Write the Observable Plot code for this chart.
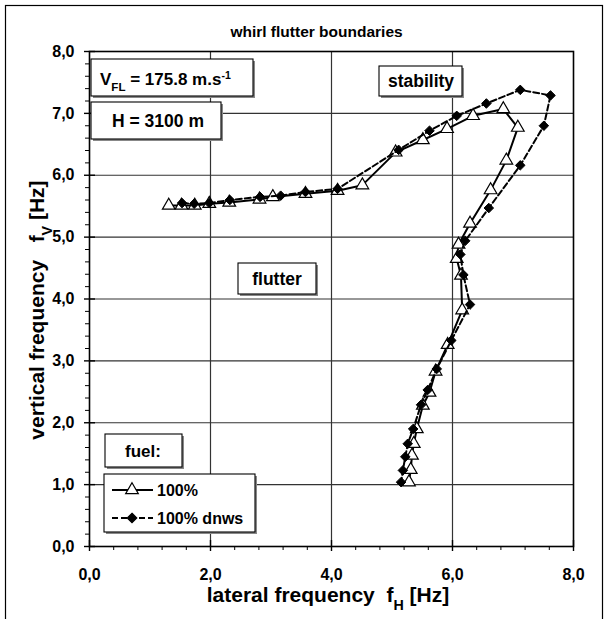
<!DOCTYPE html>
<html><head><meta charset="utf-8">
<script src="https://cdn.jsdelivr.net/npm/d3@7"></script>
<script src="https://cdn.jsdelivr.net/npm/@observablehq/plot@0.6"></script>
<style>body{margin:0;background:#fff}svg text{white-space:pre}</style>
</head><body><div id="chart"></div>
<script>
// ---- data: fuel 100 % (solid line, open triangles) ----
const fuel100X = [1.31, 1.52, 1.74, 1.98, 2.31, 2.81, 3.03, 3.57, 4.10, 4.51, 5.06, 5.51, 5.91, 6.34, 6.84, 7.08, 6.89, 6.63, 6.29, 6.10, 6.07, 6.14, 6.16, 5.92, 5.72, 5.62, 5.51, 5.41, 5.36, 5.33, 5.31, 5.28];
const fuel100Y = [5.51, 5.51, 5.51, 5.54, 5.56, 5.61, 5.65, 5.70, 5.75, 5.84, 6.37, 6.57, 6.75, 6.96, 7.07, 6.77, 6.24, 5.76, 5.22, 4.88, 4.65, 4.38, 3.82, 3.26, 2.83, 2.49, 2.28, 1.90, 1.66, 1.47, 1.24, 1.04];
// ---- data: fuel 100 % dnws (dashed line, filled diamonds) ----
const dnwsX = [1.53, 1.73, 1.98, 2.32, 2.82, 3.16, 3.57, 4.10, 5.11, 5.62, 6.07, 6.56, 7.12, 7.62, 7.51, 7.12, 6.60, 6.21, 6.13, 6.18, 6.29, 5.98, 5.74, 5.59, 5.48, 5.35, 5.26, 5.22, 5.18, 5.15];
const dnwsY = [5.55, 5.54, 5.55, 5.60, 5.65, 5.67, 5.73, 5.78, 6.41, 6.72, 6.96, 7.16, 7.38, 7.29, 6.80, 6.16, 5.47, 4.94, 4.72, 4.39, 3.91, 3.33, 2.87, 2.53, 2.29, 1.90, 1.66, 1.45, 1.23, 1.04];
// ---- ticks ----
const xTicks = [0, 2, 4, 6, 8];
const yTicks = [0, 1, 2, 3, 4, 5, 6, 7, 8];
const xGrid = [2, 4, 6];
const yGrid = [1, 2, 3, 4, 5, 6, 7];
const xMinor = [0.4, 0.8, 1.2, 1.6, 2.4, 2.8, 3.2, 3.6, 4.4, 4.8, 5.2, 5.6, 6.4, 6.8, 7.2, 7.6];
const yMinor = [0.2,0.4,0.6,0.8,1.2,1.4,1.6,1.8,2.2,2.4,2.6,2.8,3.2,3.4,3.6,3.8,4.2,4.4,4.6,4.8,5.2,5.4,5.6,5.8,6.2,6.4,6.6,6.8,7.2,7.4,7.6,7.8];
// ---- texts ----
const titleText = "whirl flutter boundaries";
const seriesNames = ["100%", "100% dnws"];

const s1 = fuel100X.map((x, i) => ({x, y: fuel100Y[i]}));
const s2 = dnwsX.map((x, i) => ({x, y: dnwsY[i]}));
const fmt = d => d.toFixed(1).replace(".", ",");
const FONT = "'Liberation Sans', Arial, sans-serif";

const plot = Plot.plot({
  width: 608, height: 619,
  marginLeft: 89, marginRight: 35, marginTop: 51, marginBottom: 73,
  style: {fontFamily: FONT, fontWeight: "bold", background: "#fff", color: "#000", overflow: "visible"},
  x: {domain: [0, 8], label: null},
  y: {domain: [0, 8], label: null},
  marks: [
    Plot.gridY(yGrid, {stroke: "#333", strokeOpacity: 1, strokeWidth: 1.2}),
    Plot.gridX(xGrid, {stroke: "#333", strokeOpacity: 1, strokeWidth: 1.2}),
    Plot.frame({stroke: "#000", strokeWidth: 1.6}),
    Plot.ruleX(xMinor, {x: d => d, y1: 0, y2: 0, insetTop: 0, insetBottom: -4, stroke: "#000", strokeWidth: 1}),
    Plot.ruleX(xTicks, {x: d => d, y1: 0, y2: 0, insetTop: -6, insetBottom: -5, stroke: "#000", strokeWidth: 1.4}),
    Plot.ruleY(yMinor, {y: d => d, x1: 0, x2: 0, insetLeft: -4, insetRight: 0, stroke: "#000", strokeWidth: 1}),
    Plot.ruleY(yTicks, {y: d => d, x1: 0, x2: 0, insetLeft: -5, insetRight: -6, stroke: "#000", strokeWidth: 1.4}),
    Plot.axisX(xTicks, {tickSize: 0, tickPadding: 22, tickFormat: fmt, fontSize: 16, label: null}),
    Plot.axisY(yTicks, {tickSize: 0, tickPadding: 15, tickFormat: fmt, fontSize: 16, label: null}),
    Plot.line(s1, {x: "x", y: "y", stroke: "#000", strokeWidth: 2}),
    Plot.dot(s1, {x: "x", y: "y", symbol: "triangle", r: 4.7, fill: "#fff", stroke: "#000", strokeWidth: 1.2}),
    Plot.line(s2, {x: "x", y: "y", stroke: "#000", strokeWidth: 2, strokeDasharray: "6,3"}),
    Plot.dot(s2, {x: "x", y: "y", symbol: "diamond2", r: 4.3, fill: "#000", stroke: "#000", strokeWidth: 1}),
    Plot.text([titleText], {frameAnchor: "top", dx: -15, dy: -26, fontSize: 15.5})
  ]
});

const svg = d3.select(plot);
const g = svg.append("g").attr("font-family", FONT).attr("font-weight", "bold");

// outer chart border
g.append("rect").attr("x", 5.5).attr("y", 5.5).attr("width", 597).attr("height", 660)
  .attr("fill", "none").attr("stroke", "#000").attr("stroke-width", 1.2);

function richText(parent, x, y, parts, size, anchor, rotate) {
  const t = parent.append("text").attr("x", x).attr("y", y).attr("font-size", size)
    .attr("text-anchor", anchor || "start").attr("fill", "#000");
  if (rotate) t.attr("transform", `rotate(${rotate},${x},${y})`);
  parts.forEach(p => {
    const ts = t.append("tspan").text(p.t);
    if (p.sub) ts.attr("baseline-shift", "sub").attr("font-size", size * 0.68);
    if (p.sup) ts.attr("baseline-shift", "super").attr("font-size", size * 0.62);
  });
  return t;
}
function box(parent, x, y, w, h) {
  parent.append("rect").attr("x", x + 2).attr("y", y + 2).attr("width", w).attr("height", h).attr("fill", "#888");
  parent.append("rect").attr("x", x).attr("y", y).attr("width", w).attr("height", h)
    .attr("fill", "#fff").attr("stroke", "#000").attr("stroke-width", 1.1);
}

// annotation boxes (layout positions, pixels)
box(g, 91, 59, 162, 37);
richText(g, 100, 85, [{t: "V"}, {t: "FL", sub: true}, {t: " = 175.8 m.s"}, {t: "-1", sup: true}], 17, "start");
box(g, 91, 102, 130, 37);
richText(g, 158, 127, [{t: "H = 3100 m"}], 17.5, "middle");
box(g, 379, 66, 83, 30);
richText(g, 421, 87, [{t: "stability"}], 17.5, "middle");
box(g, 238, 263, 78, 31);
richText(g, 277, 285, [{t: "flutter"}], 17.5, "middle");
box(g, 105, 434, 77, 33);
richText(g, 143, 457, [{t: "fuel:"}], 17, "middle");

// legend
box(g, 104, 474, 151, 58);
const legendRows = [
  {y: 490, dash: null, sym: d3.symbolTriangle, size: Math.PI * 4.7 * 4.7, fill: "#fff"},
  {y: 518, dash: "6,3", sym: d3.symbolDiamond2, size: Math.PI * 4.3 * 4.3, fill: "#000"}
];
legendRows.forEach((r, i) => {
  const l = g.append("line").attr("x1", 112).attr("x2", 153).attr("y1", r.y).attr("y2", r.y)
    .attr("stroke", "#000").attr("stroke-width", 2);
  if (r.dash) l.attr("stroke-dasharray", r.dash);
  g.append("path").attr("d", d3.symbol(r.sym, r.size)()).attr("transform", `translate(132,${r.y})`)
    .attr("fill", r.fill).attr("stroke", "#000").attr("stroke-width", 1.2);
  richText(g, 157, r.y + 6, [{t: seriesNames[i]}], 16, "start");
});

// axis titles
richText(g, 328, 602, [{t: "lateral frequency  f"}, {t: "H", sub: true}, {t: " [Hz]"}], 21, "middle");
richText(g, 44, 310, [{t: "vertical frequency   f"}, {t: "V", sub: true}, {t: " [Hz]"}], 21, "middle", -90);

document.getElementById("chart").appendChild(plot);
</script>
</body></html>
